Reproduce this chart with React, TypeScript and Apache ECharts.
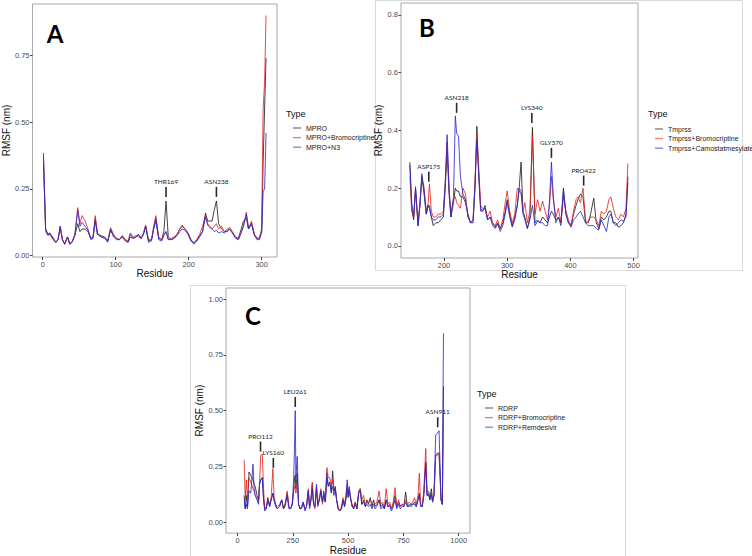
import React, { useEffect, useRef } from "react";
import * as echarts from "echarts";

// ---------- Panel A (MPRO) ----------
const A_RES = [1,4,7,10,14,18,21,24,27,30,34,37,40,44,48,51,54,58,62,66,69,72,75,80,85,89,93,97,101,105,109,113,117,120,124,128,131,135,138,141,145,149,152,155,159,163,166,169,172,176,180,184,188,191,195,199,203,207,211,215,219,223,226,229,232,235,238,241,245,249,253,256,260,264,268,272,275,279,282,286,290,294,297,300,302,304,306];
const A_MPRO = [0.35,0.10,0.08,0.085,0.065,0.05,0.06,0.105,0.06,0.045,0.07,0.045,0.05,0.075,0.12,0.09,0.10,0.10,0.09,0.065,0.07,0.14,0.08,0.075,0.07,0.055,0.095,0.075,0.065,0.06,0.075,0.06,0.05,0.07,0.065,0.07,0.08,0.065,0.08,0.11,0.055,0.06,0.1,0.13,0.065,0.06,0.09,0.205,0.07,0.06,0.065,0.08,0.1,0.11,0.1,0.085,0.06,0.045,0.055,0.075,0.09,0.16,0.13,0.13,0.13,0.17,0.205,0.12,0.1,0.09,0.09,0.1,0.085,0.07,0.065,0.1,0.13,0.14,0.1,0.12,0.08,0.065,0.065,0.09,0.35,0.55,0.74];
const A_BROMO = [0.37,0.09,0.075,0.08,0.07,0.05,0.06,0.11,0.06,0.045,0.07,0.045,0.05,0.08,0.18,0.12,0.15,0.13,0.10,0.065,0.07,0.15,0.085,0.07,0.065,0.055,0.105,0.08,0.065,0.06,0.07,0.06,0.055,0.085,0.07,0.075,0.07,0.065,0.085,0.115,0.06,0.06,0.11,0.15,0.07,0.06,0.08,0.09,0.06,0.065,0.07,0.08,0.1,0.115,0.1,0.085,0.06,0.05,0.06,0.08,0.11,0.15,0.12,0.11,0.10,0.11,0.12,0.10,0.11,0.09,0.1,0.107,0.09,0.07,0.06,0.09,0.11,0.163,0.1,0.13,0.08,0.06,0.07,0.1,0.55,0.65,0.9];
const A_N3 = [0.385,0.10,0.08,0.08,0.06,0.05,0.06,0.11,0.06,0.042,0.07,0.042,0.05,0.075,0.17,0.11,0.125,0.11,0.095,0.06,0.065,0.13,0.08,0.07,0.065,0.05,0.1,0.07,0.06,0.06,0.07,0.055,0.05,0.08,0.065,0.07,0.08,0.065,0.08,0.11,0.05,0.055,0.1,0.14,0.06,0.055,0.075,0.09,0.06,0.06,0.065,0.075,0.09,0.1,0.095,0.08,0.055,0.045,0.055,0.07,0.09,0.145,0.115,0.105,0.1,0.09,0.095,0.085,0.09,0.085,0.095,0.1,0.085,0.065,0.06,0.085,0.11,0.155,0.1,0.12,0.075,0.06,0.06,0.09,0.24,0.25,0.46];
const A_X_TICKS = [0, 100, 200, 300];
const A_Y_TICKS = [0, 0.25, 0.5, 0.75];
const A_ANN = [
  { name: "THR169", x: 169, y: 0.239 },
  { name: "ASN238", x: 238, y: 0.239 },
];

// ---------- Panel B (Tmprss) ----------
const B_RES = [146,149,152,155,159,162,165,168,172,175,177,180,183,187,191,195,199,202,205,208,211,215,218,220,223,226,230,234,238,242,246,249,252,255,258,261,265,269,273,277,281,285,289,293,297,300,304,308,312,316,319,322,325,328,332,336,340,344,348,352,356,360,364,367,370,373,377,381,385,389,393,397,401,405,409,412,416,420,424,428,432,437,441,445,449,453,457,461,464,468,472,476,480,484,488,491];
const B_TMPRSS = [0.29,0.13,0.09,0.2,0.07,0.15,0.24,0.19,0.11,0.14,0.13,0.1,0.07,0.08,0.08,0.09,0.1,0.2,0.33,0.18,0.1,0.15,0.2,0.19,0.19,0.17,0.17,0.15,0.11,0.08,0.08,0.2,0.414,0.25,0.13,0.12,0.14,0.09,0.1,0.08,0.065,0.08,0.06,0.08,0.12,0.16,0.11,0.07,0.1,0.14,0.2,0.29,0.12,0.1,0.06,0.1,0.41,0.08,0.09,0.08,0.1,0.09,0.08,0.1,0.12,0.11,0.09,0.1,0.08,0.2,0.11,0.08,0.07,0.11,0.14,0.16,0.18,0.17,0.08,0.08,0.11,0.165,0.08,0.06,0.1,0.09,0.1,0.12,0.12,0.08,0.08,0.065,0.07,0.08,0.11,0.24];
const B_BROMO = [0.24,0.12,0.1,0.19,0.08,0.14,0.23,0.21,0.12,0.15,0.215,0.12,0.1,0.1,0.11,0.11,0.12,0.22,0.36,0.2,0.11,0.16,0.17,0.15,0.14,0.13,0.2,0.18,0.1,0.08,0.09,0.22,0.39,0.27,0.14,0.13,0.13,0.1,0.12,0.08,0.07,0.09,0.06,0.09,0.15,0.19,0.12,0.08,0.11,0.2,0.19,0.18,0.12,0.15,0.08,0.12,0.38,0.11,0.16,0.12,0.155,0.12,0.09,0.14,0.24,0.16,0.1,0.13,0.08,0.17,0.12,0.09,0.07,0.12,0.16,0.17,0.15,0.2,0.09,0.08,0.1,0.1,0.09,0.07,0.12,0.11,0.12,0.16,0.17,0.13,0.1,0.09,0.11,0.1,0.13,0.285];
const B_CAMO = [0.28,0.15,0.1,0.205,0.07,0.14,0.25,0.2,0.11,0.14,0.14,0.1,0.09,0.09,0.1,0.1,0.11,0.22,0.385,0.2,0.1,0.17,0.45,0.39,0.38,0.24,0.18,0.16,0.1,0.08,0.09,0.2,0.37,0.24,0.12,0.12,0.13,0.09,0.1,0.07,0.06,0.075,0.05,0.07,0.11,0.15,0.1,0.065,0.09,0.14,0.2,0.19,0.11,0.09,0.06,0.09,0.14,0.07,0.085,0.08,0.08,0.07,0.07,0.16,0.29,0.17,0.08,0.1,0.07,0.19,0.11,0.08,0.065,0.09,0.1,0.11,0.12,0.1,0.08,0.07,0.07,0.07,0.06,0.055,0.09,0.07,0.05,0.1,0.11,0.08,0.07,0.08,0.09,0.085,0.1,0.22];
const B_X_TICKS = [200, 300, 400, 500];
const B_Y_TICKS = [0, 0.2, 0.4, 0.6, 0.8];
const B_ANN = [
  { name: "ASP175", x: 176, y: 0.239 },
  { name: "ASN218", x: 220, y: 0.478 },
  { name: "LYS340", x: 339, y: 0.443 },
  { name: "GLY370", x: 370, y: 0.322 },
  { name: "PRO422", x: 421, y: 0.226 },
];

// ---------- Panel C (RDRP) ----------
const C_RES = [30,35,40,45,52,60,70,75,80,88,95,100,105,112,118,123,130,137,145,152,160,165,172,180,190,200,208,215,225,232,240,248,254,258,261,264,270,276,283,290,297,305,312,320,326,332,338,344,350,357,363,370,377,384,390,397,404,410,417,424,430,436,442,448,455,462,470,477,484,490,496,500,505,512,518,525,532,540,548,555,562,570,578,585,592,600,608,615,622,630,640,648,656,664,672,680,688,696,704,712,720,728,736,744,752,760,768,776,784,792,800,808,816,822,828,835,842,851,857,864,870,876,882,888,896,904,911,916,920,926,931];
const C_RDRP = [0.12,0.06,0.12,0.07,0.225,0.21,0.19,0.17,0.16,0.12,0.1,0.175,0.19,0.2,0.1,0.06,0.06,0.11,0.07,0.1,0.13,0.1,0.08,0.06,0.07,0.1,0.06,0.08,0.13,0.07,0.06,0.08,0.14,0.2,0.21,0.15,0.22,0.08,0.06,0.07,0.09,0.06,0.07,0.14,0.07,0.1,0.17,0.08,0.07,0.15,0.08,0.1,0.14,0.09,0.12,0.09,0.2,0.16,0.18,0.13,0.23,0.14,0.16,0.1,0.06,0.05,0.06,0.1,0.07,0.1,0.15,0.11,0.14,0.1,0.08,0.06,0.09,0.06,0.14,0.15,0.08,0.1,0.07,0.1,0.08,0.11,0.07,0.1,0.07,0.08,0.1,0.07,0.08,0.06,0.1,0.07,0.08,0.06,0.08,0.12,0.07,0.09,0.07,0.08,0.07,0.135,0.07,0.08,0.07,0.08,0.09,0.07,0.1,0.13,0.08,0.07,0.12,0.26,0.12,0.12,0.1,0.15,0.1,0.12,0.3,0.31,0.31,0.2,0.1,0.08,0.61];
const C_BROMO = [0.28,0.1,0.19,0.1,0.2,0.18,0.15,0.14,0.12,0.11,0.09,0.18,0.3,0.305,0.15,0.06,0.07,0.1,0.08,0.11,0.24,0.12,0.08,0.07,0.08,0.1,0.06,0.08,0.14,0.07,0.06,0.09,0.15,0.16,0.15,0.13,0.17,0.08,0.06,0.07,0.08,0.06,0.07,0.15,0.07,0.1,0.18,0.08,0.06,0.16,0.08,0.11,0.15,0.08,0.13,0.1,0.245,0.2,0.2,0.16,0.19,0.14,0.15,0.1,0.07,0.05,0.07,0.11,0.08,0.12,0.17,0.13,0.15,0.11,0.07,0.07,0.09,0.07,0.13,0.15,0.1,0.12,0.08,0.09,0.09,0.1,0.08,0.09,0.08,0.09,0.14,0.08,0.09,0.07,0.15,0.08,0.09,0.06,0.09,0.155,0.07,0.1,0.07,0.08,0.08,0.1,0.08,0.09,0.08,0.09,0.11,0.08,0.12,0.22,0.08,0.07,0.14,0.33,0.13,0.14,0.11,0.12,0.09,0.12,0.3,0.3,0.31,0.2,0.1,0.08,0.49];
const C_REMDE = [0.1,0.06,0.08,0.06,0.14,0.13,0.26,0.15,0.12,0.1,0.08,0.17,0.19,0.2,0.1,0.05,0.06,0.1,0.07,0.1,0.13,0.1,0.07,0.06,0.07,0.1,0.06,0.07,0.12,0.06,0.06,0.08,0.2,0.35,0.5,0.2,0.295,0.08,0.06,0.06,0.09,0.05,0.07,0.14,0.06,0.1,0.15,0.08,0.07,0.17,0.07,0.1,0.14,0.09,0.14,0.09,0.22,0.17,0.17,0.14,0.16,0.12,0.15,0.1,0.06,0.05,0.06,0.1,0.07,0.11,0.19,0.12,0.16,0.1,0.07,0.06,0.08,0.06,0.13,0.14,0.08,0.09,0.07,0.08,0.07,0.08,0.06,0.08,0.06,0.07,0.1,0.06,0.07,0.06,0.1,0.07,0.07,0.05,0.07,0.1,0.06,0.08,0.06,0.07,0.07,0.09,0.07,0.07,0.08,0.08,0.08,0.07,0.1,0.12,0.07,0.07,0.12,0.27,0.12,0.13,0.1,0.13,0.09,0.12,0.39,0.4,0.41,0.25,0.1,0.08,0.847];
const C_X_TICKS = [0, 250, 500, 750, 1000];
const C_Y_TICKS = [0, 0.25, 0.5, 0.75, 1.0];
const C_ANN = [
  { name: "PRO112", x: 104, y: 0.339 },
  { name: "LYS160", x: 162, y: 0.266 },
  { name: "LEU261", x: 261, y: 0.539 },
  { name: "ASN911", x: 905, y: 0.448 },
];

const FONT = "Liberation Sans, Arial, sans-serif";
const COL_BASE = "#1c1c1c";
const COL_BROMO = "#e3221e";
const COL_DRUG = "#2626d8";

const pairs = (xs: number[], ys: number[]) => xs.map((x, i) => [x, ys[i]]);

export default function App() {
  const ref = useRef<HTMLDivElement>(null);

  useEffect(() => {
    if (!ref.current) return;
    const chart = echarts.init(ref.current, null, { renderer: "svg" });

    const gridBase = { show: true, borderColor: "#a8a8a8", borderWidth: 1, backgroundColor: "#ffffff" };
    const grids = [
      { ...gridBase, left: 29, top: 4, width: 248, height: 253 },
      { ...gridBase, left: 401, top: 3, width: 237, height: 255 },
      { ...gridBase, left: 226, top: 288, width: 244, height: 247 },
    ];

    const xAxisDef = (gi: number, min: number, max: number, ticks: number[], gap: number) => ({
      type: "value",
      gridIndex: gi,
      min,
      max,
      position: "bottom",
      name: "Residue",
      nameLocation: "middle",
      nameGap: gap,
      nameTextStyle: { fontFamily: FONT, fontSize: 10, color: "#111" },
      axisLine: { show: false, onZero: false },
      splitLine: { show: false },
      axisTick: { show: true, length: 3, customValues: ticks, lineStyle: { color: "#444" } },
      axisLabel: {
        customValues: ticks,
        fontFamily: FONT,
        fontSize: 7.5,
        color: "#4d4d4d",
        margin: 3,
        formatter: (v: number) => String(v),
      },
    });
    const yAxisDef = (gi: number, min: number, max: number, ticks: number[], dec: number, gap: number) => ({
      type: "value",
      gridIndex: gi,
      min,
      max,
      position: "left",
      name: "RMSF (nm)",
      nameLocation: "middle",
      nameGap: gap,
      nameTextStyle: { fontFamily: FONT, fontSize: 10, color: "#111" },
      axisLine: { show: false, onZero: false },
      splitLine: { show: false },
      axisTick: { show: true, length: 2.5, customValues: ticks, lineStyle: { color: "#444" } },
      axisLabel: {
        customValues: ticks,
        fontFamily: FONT,
        fontSize: 7.5,
        color: "#4d4d4d",
        margin: 3,
        formatter: (v: number) => v.toFixed(dec),
      },
    });

    const annMark = (anns: { name: string; x: number; y: number }[]) => ({
      silent: true,
      animation: false,
      symbol: "rect",
      symbolSize: [1.6, 10],
      itemStyle: { color: "#2a2a2a" },
      label: {
        show: true,
        position: "top",
        distance: 2,
        formatter: "{b}",
        fontFamily: "Lato, " + FONT,
        fontSize: 6.5,
        color: "#222",
      },
      data: anns.map((a) => ({ name: a.name, coord: [a.x, a.y] })),
    });

    const lineSeries = (name: string, gi: number, xs: number[], ys: number[], color: string, anns?: any[]) => ({
      type: "line",
      name,
      xAxisIndex: gi,
      yAxisIndex: gi,
      data: pairs(xs, ys),
      showSymbol: false,
      symbol: "none",
      color,
      lineStyle: { color, width: 1, opacity: 0.82 },
      itemStyle: { color },
      emphasis: { disabled: true },
      ...(anns ? { markPoint: annMark(anns) } : {}),
    });

    const legendDef = (data: string[], left: number, top: number) => ({
      data,
      left,
      top,
      orient: "vertical",
      icon: "rect",
      itemWidth: 8,
      itemHeight: 1.3,
      itemGap: 1.6,
      selectedMode: false,
      itemStyle: { opacity: 0.6 },
      textStyle: { fontFamily: FONT, fontSize: 7, color: "#1a1a1a", lineHeight: 8 },
    });

    const titleText = (x: number, y: number) => ({
      type: "text",
      x,
      y,
      style: { text: "Type", fontFamily: FONT, fontSize: 9, fill: "#111", verticalAlign: "middle" },
    });
    const letter = (t: string, x: number, y: number) => ({
      type: "text",
      x,
      y,
      style: {
        text: t,
        fontFamily: "Lato, Open Sans, sans-serif",
        fontWeight: "bold",
        fontSize: 24,
        fill: "#000",
        align: "center",
        verticalAlign: "middle",
      },
      z: 10,
    });

    chart.setOption({
      animation: false,
      backgroundColor: "#ffffff",
      grid: grids,
      xAxis: [
        xAxisDef(0, -14, 321, A_X_TICKS, 11),
        xAxisDef(1, 132, 507, B_X_TICKS, 11),
        xAxisDef(2, -52, 1051, C_X_TICKS, 11),
      ],
      yAxis: [
        yAxisDef(0, -0.005, 0.943, A_Y_TICKS, 2, 17),
        yAxisDef(1, -0.042, 0.841, B_Y_TICKS, 1, 17),
        yAxisDef(2, -0.049, 1.05, C_Y_TICKS, 2, 18),
      ],
      legend: [
        legendDef(["MPRO", "MPRO+Bromocriptine", "MPRO+N3"], 288, 119),
        legendDef(["Tmprss", "Tmprss+Bromocriptine", "Tmprss+Camostatmesylate"], 650, 120),
        legendDef(["RDRP", "RDRP+Bromocriptine", "RDRP+Remdesivir"], 480, 399),
      ],
      graphic: [
        {
          type: "rect",
          shape: { x: 375.5, y: 0.5, width: 367, height: 270 },
          style: { fill: "none", stroke: "#dadada", lineWidth: 1 },
          z: -10,
        },
        {
          type: "rect",
          shape: { x: 190.5, y: 285.5, width: 435, height: 275 },
          style: { fill: "none", stroke: "#dadada", lineWidth: 1 },
          z: -10,
        },
        titleText(286, 114),
        titleText(648, 114),
        titleText(477, 394),
        letter("A", 55, 33),
        letter("B", 427, 27),
        letter("C", 253, 315),
      ],
      series: [
        lineSeries("MPRO", 0, A_RES, A_MPRO, COL_BASE, A_ANN),
        lineSeries("MPRO+Bromocriptine", 0, A_RES, A_BROMO, COL_BROMO),
        lineSeries("MPRO+N3", 0, A_RES, A_N3, COL_DRUG),
        lineSeries("Tmprss", 1, B_RES, B_TMPRSS, COL_BASE, B_ANN),
        lineSeries("Tmprss+Bromocriptine", 1, B_RES, B_BROMO, COL_BROMO),
        lineSeries("Tmprss+Camostatmesylate", 1, B_RES, B_CAMO, COL_DRUG),
        lineSeries("RDRP", 2, C_RES, C_RDRP, COL_BASE, C_ANN),
        lineSeries("RDRP+Bromocriptine", 2, C_RES, C_BROMO, COL_BROMO),
        lineSeries("RDRP+Remdesivir", 2, C_RES, C_REMDE, COL_DRUG),
      ],
    });

    return () => chart.dispose();
  }, []);

  return (
    <div
      ref={ref}
      style={{ position: "fixed", left: 0, top: 0, width: 752, height: 556, background: "#fff" }}
    />
  );
}
